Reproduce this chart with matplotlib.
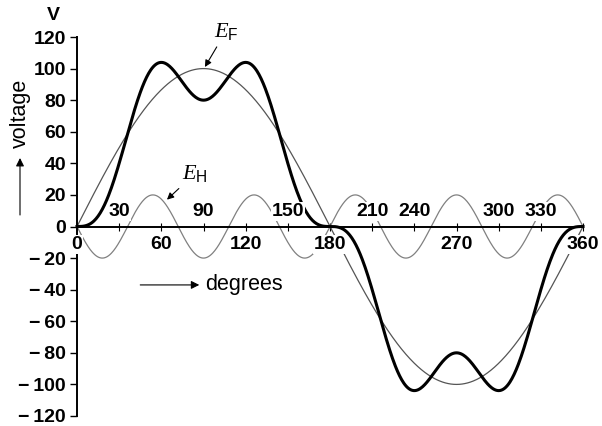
import numpy as np
import matplotlib.pyplot as plt

plt.rcParams['font.family'] = ['Liberation Sans', 'DejaVu Sans']
plt.rcParams['mathtext.fontset'] = 'custom'
plt.rcParams['mathtext.it'] = 'Liberation Serif:italic'
plt.rcParams['mathtext.rm'] = 'Liberation Sans'
plt.rcParams['mathtext.sf'] = 'Liberation Sans'

# values
fundamental_peak = 100      # V, E_F
harmonic_peak = 20          # V, E_H
harmonic_order = 5
harmonic_phase = 180        # degrees, E_H starts negative

yticks = [-120, -100, -80, -60, -40, -20, 0, 20, 40, 60, 80, 100, 120]
xticks = [30, 60, 90, 120, 150, 180, 210, 240, 270, 300, 330, 360]
labels_above = [30, 90, 150, 210, 240, 300, 330]
labels_below = [0, 60, 120, 180, 270, 360]

deg = np.linspace(0, 360, 721)
rad = np.deg2rad(deg)
e_f = fundamental_peak * np.sin(rad)
e_h = harmonic_peak * np.sin(harmonic_order * rad + np.deg2rad(harmonic_phase))
e_sum = e_f + e_h

fig = plt.figure(figsize=(6.02, 4.26), dpi=100)
ax = fig.add_axes([77 / 602, 10 / 426, 506 / 602, 379 / 426])

ax.plot(deg, e_h, color='#808080', lw=0.9, clip_on=False)
ax.plot(deg, e_f, color='#555555', lw=0.9, clip_on=False)
ax.plot(deg, e_sum, color='black', lw=2.2, clip_on=False)

ax.set_xlim(0, 360)
ax.set_ylim(-120, 120)

# axes through origin
ax.spines['left'].set_position(('data', 0))
ax.spines['bottom'].set_position(('data', 0))
ax.spines['top'].set_visible(False)
ax.spines['right'].set_visible(False)
ax.spines['left'].set_linewidth(1.4)
ax.spines['bottom'].set_linewidth(1.4)

ax.set_yticks(yticks)
ax.set_yticklabels([f'{v}' if v >= 0 else f'\u2212\u2009{-v}' for v in yticks],
                   fontsize=14, fontweight='bold')
ax.tick_params(axis='y', direction='out', length=5, width=1, pad=3)

ax.set_xticks(xticks)
ax.set_xticklabels([])
ax.tick_params(axis='x', direction='inout', length=6, width=0.8)

for v in labels_above:
    ax.text(v, 4, str(v), ha='center', va='bottom', fontsize=14,
            fontweight='bold', bbox=dict(fc='white', ec='none', pad=0.5))
for v in labels_below:
    ax.text(v, -6, str(v), ha='center', va='top', fontsize=14,
            fontweight='bold', bbox=dict(fc='white', ec='none', pad=0.5))

ax.text(-17, 128, 'V', ha='center', va='bottom', fontsize=14,
        fontweight='bold', clip_on=False)

# curve labels
ax.annotate(r'$E_{\mathrm{F}}$', xy=(91, 101), xytext=(106, 117),
            fontsize=16, ha='center', va='bottom', annotation_clip=False,
            arrowprops=dict(arrowstyle='-|>', color='black', lw=0.8,
                            mutation_scale=10, shrinkA=2, shrinkB=0))
ax.annotate(r'$E_{\mathrm{H}}$', xy=(64, 17), xytext=(84, 27),
            fontsize=16, ha='center', va='bottom', annotation_clip=False,
            arrowprops=dict(arrowstyle='-|>', color='black', lw=0.8,
                            mutation_scale=10, shrinkA=2, shrinkB=0))

# axis names with arrows
ax.annotate('', xy=(87, -37), xytext=(45, -37),
            arrowprops=dict(arrowstyle='-|>', color='black', lw=0.8,
                            mutation_scale=12, shrinkA=0, shrinkB=0))
ax.text(91, -37, 'degrees', ha='left', va='center', fontsize=15.5)

fig.text(20 / 602, 1 - 113 / 426, 'voltage', rotation=90, ha='center',
         va='center', fontsize=15.5)
ax.annotate('', xy=(20 / 602, 1 - 158 / 426), xytext=(20 / 602, 1 - 215 / 426),
            xycoords='figure fraction', textcoords='figure fraction',
            arrowprops=dict(arrowstyle='-|>', color='black', lw=0.8,
                            mutation_scale=12, shrinkA=0, shrinkB=0))

fig.savefig('out.png', dpi=100)
